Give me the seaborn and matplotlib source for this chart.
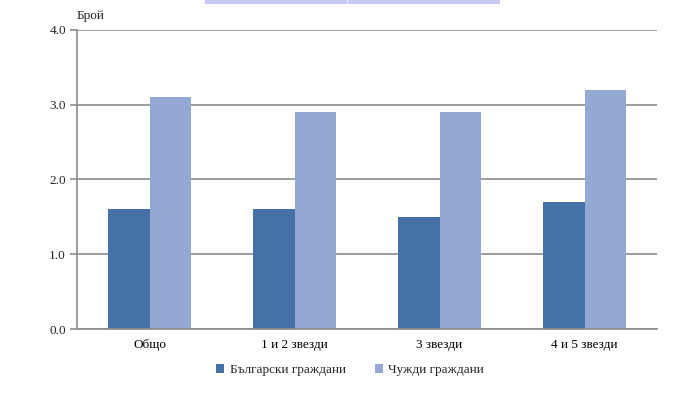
import pandas as pd
import seaborn as sns
import matplotlib.pyplot as plt
from matplotlib.patches import Rectangle

# data
categories = ["Общо", "1 и 2 звезди", "3 звезди", "4 и 5 звезди"]
series_names = ["Български граждани", "Чужди граждани"]
bulgarian = [1.6, 1.6, 1.5, 1.7]
foreign = [3.1, 2.9, 2.9, 3.2]
y_ticks = [0.0, 1.0, 2.0, 3.0, 4.0]

df = pd.DataFrame({
    "cat": categories * 2,
    "series": [series_names[0]] * 4 + [series_names[1]] * 4,
    "value": bulgarian + foreign,
})

sns.set_theme(style="white")
plt.rcParams['font.family'] = ['Liberation Serif', 'DejaVu Serif']

fig = plt.figure(figsize=(7, 3.93), dpi=100)
ax = fig.add_axes([0.11, 0.1628, 0.8286, 0.761])

sns.barplot(data=df, x="cat", y="value", hue="series", order=categories,
            hue_order=series_names, palette=["#4571a7", "#93a9d3"],
            width=0.57, saturation=1, linewidth=0, edgecolor="none",
            ax=ax, legend=True)

ax.set_xlim(-0.5, 3.5)
ax.set_ylim(0, 4)
ax.set_yticks(y_ticks)
ax.set_yticklabels([f"{v:.1f}" for v in y_ticks])
ax.yaxis.grid(True, color="#8c8c8c", linewidth=1.2)
ax.set_axisbelow(True)

# tick marks between categories, labels centred
ax.set_xticks([-0.5, 0.5, 1.5, 2.5, 3.5], minor=True)
ax.tick_params(axis="x", which="major", length=0, labelsize=9.5, pad=7, colors="black")
ax.tick_params(axis="x", which="minor", length=5, width=1.2, color="#8c8c8c", direction="out")
ax.tick_params(axis="y", length=5, width=1.2, color="#8c8c8c", direction="out",
               labelsize=9.5, pad=3, left=True)

for side in ["top", "right"]:
    ax.spines[side].set_visible(False)
for side in ["left", "bottom"]:
    ax.spines[side].set_color("#8c8c8c")
    ax.spines[side].set_linewidth(1.2)

ax.set_xlabel("")
ax.set_ylabel("")
ax.text(0.0, 1.025, "Брой", transform=ax.transAxes, fontsize=9.5, ha="left", va="bottom")

handles, labels = ax.get_legend_handles_labels()
ax.legend(handles, labels, loc="center", bbox_to_anchor=(0.5, 0.058),
          bbox_transform=fig.transFigure, ncol=2, frameon=False, fontsize=9.5,
          handlelength=0.6, handleheight=0.6, handletextpad=0.4, columnspacing=2.2)

# cut-off box at the very top of the original image
fig.patches.append(Rectangle((205 / 700, 1 - 4 / 393), 295 / 700, 4 / 393,
                             transform=fig.transFigure, facecolor="#c9c9f7",
                             edgecolor="none"))
fig.patches.append(Rectangle((346.5 / 700, 1 - 4 / 393), 1.2 / 700, 4 / 393,
                             transform=fig.transFigure, facecolor="#eeeefc",
                             edgecolor="none"))

fig.savefig("out.png", dpi=100)
